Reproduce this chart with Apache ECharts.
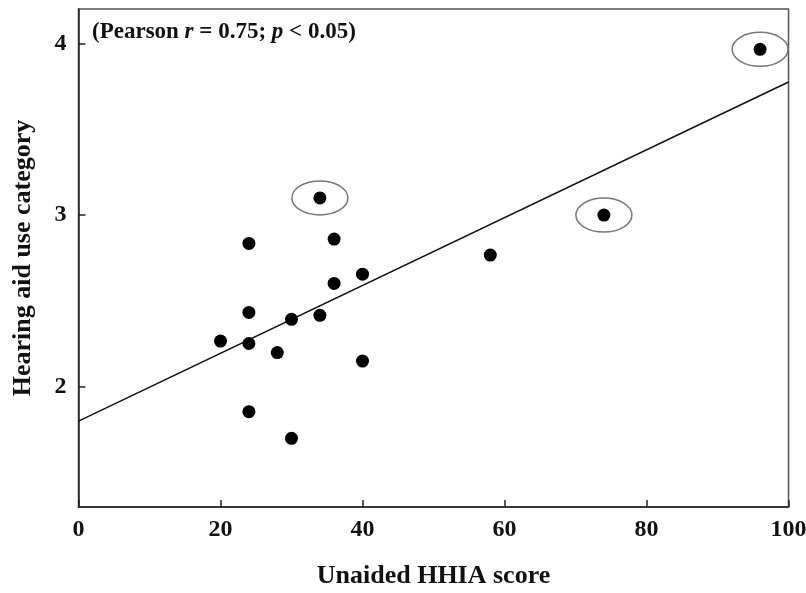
<!DOCTYPE html>
<html>
<head>
<meta charset="utf-8">
<script src="https://cdn.jsdelivr.net/npm/echarts@6/dist/echarts.min.js"></script>
<style>html,body{margin:0;padding:0;background:#fff}#c{width:806px;height:593px}</style>
</head>
<body>
<div id="c"></div>
<script>
// Data
const hhiaScores = [34, 24, 36, 40, 36, 24, 30, 34, 20, 24, 28, 40, 24, 30, 74, 96, 58];
const useCategory = [3.10, 2.835, 2.86, 2.656, 2.602, 2.433, 2.393, 2.416, 2.266, 2.252, 2.199, 2.15, 1.855, 1.70, 3.0, 3.965, 2.767];
const circledX = [34, 74, 96];
const circledY = [3.10, 3.0, 3.965];
const fitLineX = [0, 100];
const fitLineY = [1.80, 3.775];
const xTicks = [0, 20, 40, 60, 80, 100];
const yTicks = [2, 3, 4];

const points = hhiaScores.map((x, i) => [x, useCategory[i]]);
const circled = circledX.map((x, i) => [x, circledY[i]]);
const fitLine = fitLineX.map((x, i) => [x, fitLineY[i]]);

const font = '"Liberation Serif", "Times New Roman", serif';
const chart = echarts.init(document.getElementById('c'), null, {renderer: 'canvas'});
chart.setOption({
  animation: false,
  backgroundColor: '#fff',
  grid: {left: 78.5, right: 17.5, top: 9, bottom: 86, containLabel: false, outerBoundsMode: 'none',
         show: true, borderColor: '#555', borderWidth: 1.5, backgroundColor: 'transparent'},
  xAxis: {
    type: 'value', min: 0, max: 100, interval: 20,
    name: 'Unaided HHIA score', nameLocation: 'middle', nameGap: 56,
    nameTextStyle: {fontFamily: font, fontWeight: 'bold', fontSize: 26, color: '#111'},
    axisLine: {show: true, lineStyle: {color: '#222', width: 1.5}},
    axisTick: {show: true, inside: true, length: 7, lineStyle: {color: '#222', width: 1.5}, customValues: xTicks},
    axisLabel: {fontFamily: font, fontWeight: 'bold', fontSize: 24, color: '#111', margin: 11, customValues: xTicks},
    splitLine: {show: false}
  },
  yAxis: {
    type: 'value', min: 1.3, max: 4.2,
    name: 'Hearing aid use category', nameLocation: 'middle', nameGap: 42, nameRotate: 90,
    nameTextStyle: {fontFamily: font, fontWeight: 'bold', fontSize: 26, color: '#111'},
    axisLine: {show: true, lineStyle: {color: '#222', width: 1.5}},
    axisTick: {show: true, inside: true, length: 7, lineStyle: {color: '#222', width: 1.5}, customValues: yTicks},
    axisLabel: {fontFamily: font, fontWeight: 'bold', fontSize: 24, color: '#111', margin: 12, customValues: yTicks},
    splitLine: {show: false}
  },
  graphic: [{
    type: 'text', left: 92, top: 21, z: 10,
    style: {
      text: '{n|(Pearson }{i|r}{n| = 0.75; }{i|p}{n| < 0.05)}',
      rich: {
        n: {fontFamily: font, fontWeight: 'bold', fontSize: 23, fill: '#111'},
        i: {fontFamily: font, fontWeight: 'bold', fontStyle: 'italic', fontSize: 23, fill: '#111'}
      }
    }
  }],
  series: [
    {
      type: 'line', data: fitLine, symbol: 'none', silent: true,
      lineStyle: {color: '#111', width: 1.5}, z: 2
    },
    {
      type: 'scatter', data: points, symbol: 'circle', symbolSize: 13,
      itemStyle: {color: '#000', opacity: 1}, z: 3
    },
    {
      type: 'custom', data: circled, z: 4,
      renderItem: function (params, api) {
        const c = api.coord([api.value(0), api.value(1)]);
        return {
          type: 'ellipse',
          shape: {cx: c[0], cy: c[1], rx: 28, ry: 17},
          style: {fill: 'none', stroke: '#777', lineWidth: 1.5}
        };
      }
    }
  ]
});
</script>
</body>
</html>
